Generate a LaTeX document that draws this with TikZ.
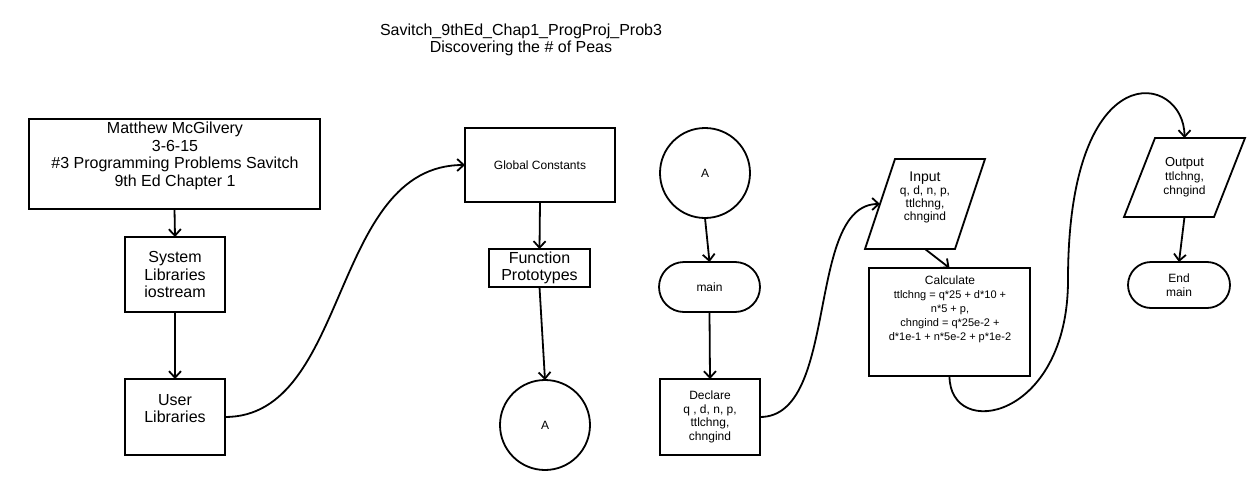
\documentclass[tikz,border=0pt]{standalone}
\usepackage{fontspec}
\setmainfont{Liberation Sans}
\usetikzlibrary{arrows.meta,shapes.misc,calc}
\begin{document}
\begin{tikzpicture}[x=1pt,y=-1pt,
  every node/.style={inner sep=0pt, outer sep=0pt, align=center},
  shp/.style={draw, line width=1.8pt},
  box/.style={shp, rectangle},
  term/.style={shp, rounded rectangle},
  conn/.style={shp, circle},
  flow/.style={line width=1.8pt, -{Straight Barb[length=6.5pt,width=12pt]}},
  bigtxt/.style={font=\fontsize{16}{17.5}\selectfont},
  smalltxt/.style={font=\fontsize{12}{13.8}\selectfont},
  titletxt/.style={font=\fontsize{16}{17}\selectfont}]
\useasboundingbox (0,0) rectangle (1256,490);

% title
\node[titletxt] (title) at (521,39.5) {Savitch\_9thEd\_Chap1\_ProgProj\_Prob3\\Discovering the \# of Peas};

% left column: header and libraries
\node[box, minimum width=291, minimum height=90] (hdr) at (174.5,164) {};
\node[bigtxt] (hdrtxt) at (175,156) {Matthew McGilvery\\3-6-15\\\#3 Programming Problems Savitch\\9th Ed Chapter 1};
\node[box, bigtxt, minimum width=100, minimum height=75] (sys) at (175,274.5) {System\\Libraries\\iostream};
\node[box, minimum width=100, minimum height=76] (user) at (175,417) {};
\node[bigtxt] (usertxt) at (175,408.5) {User\\Libraries};

% globals and prototypes
\node[box, smalltxt, minimum width=150, minimum height=74] (gc) at (540,165) {Global Constants};
\node[box, bigtxt, minimum width=101, minimum height=38] (fp) at (539.5,268) {Function\\Prototypes};
\node[conn, smalltxt, minimum size=90] (a1) at (545,425) {A};

% main program
\node[conn, smalltxt, minimum size=90] (a2) at (705,173) {A};
\node[term, smalltxt, minimum width=101, minimum height=50] (main) at (709.5,287) {main};
\node[box, font=\fontsize{12}{13.5}\selectfont, minimum width=100, minimum height=76] (decl) at (710,417) {Declare\\q , d, n, p,\\ttlchng,\\chngind};

% input parallelogram (bounding box node, outline drawn from its corners)
\node[minimum width=120, minimum height=90] (inp) at (925,204) {};
\draw[shp] ($(inp.north west)+(30,0)$) -- (inp.north east)
  -- ($(inp.south east)+(-30,0)$) -- (inp.south west) -- cycle;
\coordinate (inpleft) at ($(inp.west)+(15,0)$);
\node[font=\fontsize{12}{13}\selectfont] (inptxt) at (925,197) {{\fontsize{14}{16}\selectfont Input}\\q, d, n, p,\\ttlchng,\\chngind};

\node[box, minimum width=161, minimum height=108] (calc) at (949.5,322) {};
\node[font=\fontsize{11}{14}\selectfont] (calctxt) at (950,309) {{\fontsize{12}{14}\selectfont Calculate}\\ttlchng = q*25 + d*10 +\\n*5 + p,\\chngind = q*25e-2 +\\d*1e-1 + n*5e-2 + p*1e-2};

% output parallelogram
\node[font=\fontsize{12}{14}\selectfont, minimum width=121, minimum height=79] (outp) at (1184.5,177.5) {{\fontsize{13}{14}\selectfont Output}\\ttlchng,\\chngind};
\draw[shp] ($(outp.north west)+(31,0)$) -- (outp.north east)
  -- ($(outp.south east)+(-31,0)$) -- (outp.south west) -- cycle;

\node[term, smalltxt, minimum width=102, minimum height=46] (endm) at (1179,285) {End\\main};
\coordinate (turn) at (1068,280);

% connectors
\draw[flow] (hdr.south) -- (sys.north);
\draw[flow] (sys.south) -- (user.north);
\draw[flow] (user.east) .. controls +(125,0) and +(-135,0) .. (gc.west);
\draw[flow] (gc.south) -- (fp.north);
\draw[flow] (fp.south) -- (a1.north);
\draw[flow] (a2.south) -- (main.north);
\draw[flow] (main.south) -- (decl.north);
\draw[flow] (decl.east) .. controls +(80,0) and +(-75,0) .. (inpleft);
\draw[flow] (inp.south) -- (calc.north);
\draw[flow] (calc.south) .. controls +(0,65) and +(0,140) .. (turn)
  .. controls +(0,-230) and +(0,-65) .. (outp.north);
\draw[flow] (outp.south) -- (endm.north);
\end{tikzpicture}
\end{document}
